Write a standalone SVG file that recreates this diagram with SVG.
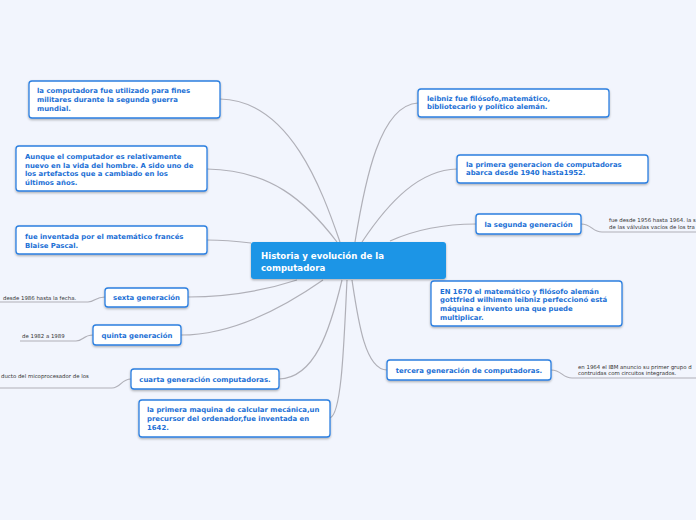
<svg xmlns="http://www.w3.org/2000/svg" width="696" height="520" viewBox="0 0 696 520">
<defs>
<filter id="sh" x="-10%" y="-20%" width="120%" height="150%">
<feDropShadow dx="0" dy="1.2" stdDeviation="0.8" flood-color="#000" flood-opacity="0.3"/>
</filter>
<style>
.n{fill:#fff;stroke:#2b7fe0;stroke-width:1.3;filter:url(#sh)}
.c{fill:#1a95e6;filter:url(#sh)}
.t{font-family:"DejaVu Sans",Verdana,sans-serif;font-weight:bold;font-size:6.9px;fill:#1b6fd5}
.tc{font-family:"DejaVu Sans",Verdana,sans-serif;font-weight:bold;font-size:8.6px;fill:#fff}
.l{font-family:"DejaVu Sans",Verdana,sans-serif;font-size:5.4px;fill:#333}
.e{fill:none;stroke:#b0b0b8;stroke-width:1.2}
</style>
</defs>
<rect width="696" height="520" fill="#f2f5fd"/>
<g id="connectors">
<path class="e" d="M340,242 C322,190 290,100 220,99"/>
<path class="e" d="M337,242 C305,200 270,170 207,169"/>
<path class="e" d="M251,243 C235,241 225,240 207,240"/>
<path class="e" d="M355,242 C365,180 380,105 418,103"/>
<path class="e" d="M362,242 C390,200 420,170 457,169"/>
<path class="e" d="M390,241 C410,232 440,224 476,224"/>
<path class="e" d="M297,280 C260,292 220,297 188,297"/>
<path class="e" d="M323,280 C280,310 230,335 181,335"/>
<path class="e" d="M342,280 C330,330 315,378 279,379"/>
<path class="e" d="M347,280 C344,340 342,414 330,418"/>
<path class="e" d="M352,280 C358,320 365,370 387,370"/>
<path class="e" d="M105,297 C95,297 95,302 88,302 L0,302"/>
<path class="e" d="M93,335 C83,335 83,341 76,341 L20,341"/>
<path class="e" d="M131,379 C121,379 121,388 112,388 L0,388"/>
<path class="e" d="M581,224 C592,224 592,232 602,232 L696,232"/>
<path class="e" d="M551,370 C562,370 562,378 572,378 L696,378"/>
</g>
<g id="center"><rect class="c" x="251" y="242" width="195" height="37" rx="3"/>
<text class="tc" x="261" y="259">Historia y evolución de la</text><text class="tc" x="261" y="270.5">computadora</text></g>
<g id="n1"><rect class="n" x="29" y="81" width="191" height="37" rx="3"/>
<text class="t" x="37" y="93">la computadora fue utilizado para fines</text><text class="t" x="37" y="102">militares durante la segunda guerra</text><text class="t" x="37" y="111">mundial.</text></g>
<g id="n2"><rect class="n" x="16" y="146" width="191" height="45" rx="3"/>
<text class="t" x="25" y="159">Aunque el computador es relativamente</text><text class="t" x="25" y="167.5">nuevo en la vida del hombre. A sido uno de</text><text class="t" x="25" y="176">los artefactos que a cambiado en los</text><text class="t" x="25" y="184.5">últimos años.</text></g>
<g id="n3"><rect class="n" x="16" y="226" width="191" height="28" rx="3"/>
<text class="t" x="25" y="239">fue inventada por el matemático francés</text><text class="t" x="25" y="247.5">Blaise Pascal.</text></g>
<g id="n4"><rect class="n" x="105" y="288" width="83" height="19" rx="3"/>
<text class="t" x="146.5" y="300" text-anchor="middle">sexta generación</text></g>
<g id="n5"><rect class="n" x="93" y="325" width="88" height="20" rx="3"/>
<text class="t" x="137" y="337.5" text-anchor="middle">quinta generación</text></g>
<g id="n6"><rect class="n" x="131" y="369" width="148" height="20" rx="3"/>
<text class="t" x="205" y="381.5" text-anchor="middle">cuarta generación computadoras.</text></g>
<g id="n7"><rect class="n" x="139" y="400" width="191" height="37" rx="3"/>
<text class="t" x="147" y="412">la primera maquina de calcular mecánica,un</text><text class="t" x="147" y="421">precursor del ordenador,fue inventada en</text><text class="t" x="147" y="429.5">1642.</text></g>
<g id="n8"><rect class="n" x="418" y="89" width="191" height="28" rx="3"/>
<text class="t" x="427" y="100.5">leibniz fue filósofo,matemático,</text><text class="t" x="427" y="109">bibliotecario  y político alemán.</text></g>
<g id="n9"><rect class="n" x="457" y="155" width="191" height="28" rx="3"/>
<text class="t" x="466" y="166.5">la primera generacion de computadoras</text><text class="t" x="466" y="175">abarca desde 1940 hasta1952.</text></g>
<g id="n10"><rect class="n" x="476" y="214" width="105" height="20" rx="3"/>
<text class="t" x="528.5" y="226.5" text-anchor="middle">la segunda generación</text></g>
<g id="n11"><rect class="n" x="431" y="281" width="191" height="45" rx="3"/>
<text class="t" x="440" y="293.5">EN 1670 el matemático y filósofo alemán</text><text class="t" x="440" y="302">gottfried wilhimen leibniz perfeccionó está</text><text class="t" x="440" y="311">máquina e invento una que puede</text><text class="t" x="440" y="319.5">multiplicar.</text></g>
<g id="n12"><rect class="n" x="387" y="360" width="164" height="20" rx="3"/>
<text class="t" x="469" y="372.5" text-anchor="middle">tercera generación de computadoras.</text></g>
<g id="leaves">
<text class="l" x="609" y="222">fue desde 1956 hasta 1964. la s</text>
<text class="l" x="609" y="229">de las válvulas vacíos de los tra</text>
<text class="l" x="578" y="368.5">en 1964 el IBM anuncio su primer grupo d</text>
<text class="l" x="578" y="375">contruidas com circuitos integrados.</text>
<text class="l" x="3" y="299.5">desde 1986 hasta la fecha.</text>
<text class="l" x="22" y="338">de 1982 a 1989</text>
<text class="l" x="1" y="378">ducto del micoprocesador de los</text>
</g>
</svg>
